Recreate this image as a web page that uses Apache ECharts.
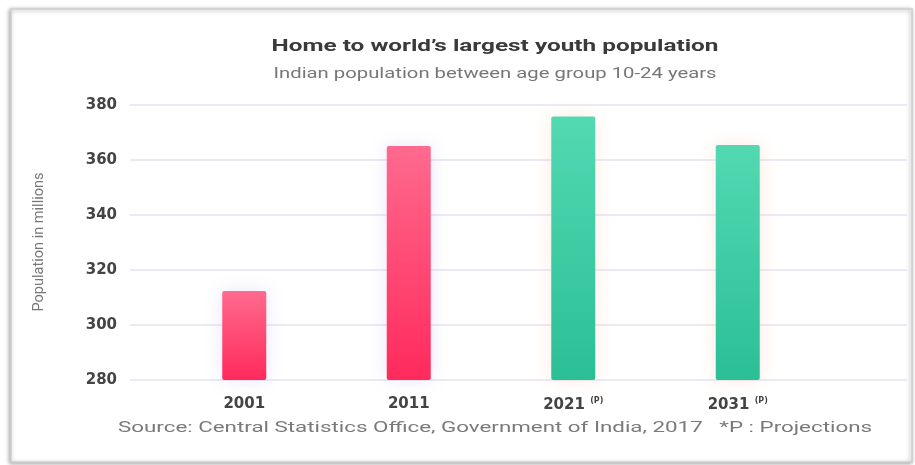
<!DOCTYPE html>
<html>
<head>
<meta charset="utf-8">
<script src="https://cdn.jsdelivr.net/npm/echarts@6/dist/echarts.min.js"></script>
<style>html,body{margin:0;padding:0;background:#fff;}#c{width:915px;height:465px;}</style>
</head>
<body>
<div id="c"></div>
<script>
// ---- data ----
const categories = ['2001', '2011', '2021', '2031'];
const projected = [false, false, true, true];
const population = [312.4, 365.1, 375.8, 365.5];
const yMin = 280, yMax = 380, yStep = 20;
const titleText = 'Home to world\u2019s largest youth population';
const subtitleText = 'Indian population between age group 10-24 years';
const yName = 'Population in millions';
const sourceText = 'Source: Central Statistics Office, Government of India, 2017   *P : Projections';
const projMark = '(P)';

// ---- helpers ----
const mctx = document.createElement('canvas').getContext('2d');
function fitScale(text, font, target) {
  mctx.font = font;
  const w = mctx.measureText(text).width;
  return w > 0 ? target / w : 1;
}
function txt(text, x, y, font, fill, target, extra) {
  return Object.assign({
    type: 'text', x: x, y: y, z: 10,
    scaleX: fitScale(text, font, target),
    style: { text: text, font: font, fill: fill, align: 'center', verticalAlign: 'middle' }
  }, extra || {});
}

const pinkGrad = new echarts.graphic.LinearGradient(0, 0, 0, 1, [
  { offset: 0, color: '#ff6a8e' }, { offset: 1, color: '#ff2a5c' }]);
const greenGrad = new echarts.graphic.LinearGradient(0, 0, 0, 1, [
  { offset: 0, color: '#52d9b2' }, { offset: 1, color: '#2bbf95' }]);

const barData = population.map((v, i) => ({
  value: v,
  itemStyle: projected[i]
    ? { color: greenGrad, shadowBlur: 18, shadowColor: 'rgba(255,160,110,0.22)', borderRadius: 2 }
    : { color: pinkGrad, shadowBlur: 18, shadowColor: 'rgba(140,110,220,0.18)', borderRadius: 2 }
}));

const labelFont = 'DejaVu Sans';
const chart = echarts.init(document.getElementById('c'), null, { renderer: 'canvas' });
chart.setOption({
  animation: false,
  backgroundColor: '#fff',
  grid: [
    { left: 130, right: 8, top: 105, bottom: 85 },
    { left: 162, right: 95, top: 105, bottom: 85 }
  ],
  xAxis: [
    { gridIndex: 0, type: 'category', data: categories, show: false },
    {
      gridIndex: 1, type: 'category', data: categories,
      axisLine: { show: false }, axisTick: { show: false },
      axisLabel: {
        margin: 17, color: '#444', fontFamily: labelFont, fontWeight: 'bold', fontSize: 15,
        formatter: function (v) {
          const i = categories.indexOf(v);
          return projected[i] ? v + ' {p|' + projMark + '}' : v;
        },
        rich: { p: { fontSize: 8, color: '#444', fontFamily: labelFont, fontWeight: 'bold', padding: [0, 0, 8, 0] } }
      }
    }
  ],
  yAxis: [
    {
      gridIndex: 0, type: 'value', min: yMin, max: yMax, interval: yStep,
      axisLine: { show: false }, axisTick: { show: false },
      axisLabel: { margin: 13, color: '#444', fontFamily: labelFont, fontWeight: 'bold', fontSize: 15 },
      splitLine: { lineStyle: { color: '#ece9f6', width: 2 } }
    },
    { gridIndex: 1, type: 'value', min: yMin, max: yMax, interval: yStep, show: false, splitLine: { show: false } }
  ],
  series: [{
    type: 'bar', xAxisIndex: 1, yAxisIndex: 1,
    barWidth: 44, data: barData
  }],
  graphic: [
    {
      type: 'rect', z: -10,
      shape: { x: 11, y: 9, width: 901, height: 453 },
      style: { fill: '#fff', stroke: '#cfcfcf', lineWidth: 1.5, shadowBlur: 4, shadowOffsetX: -1, shadowOffsetY: 1, shadowColor: 'rgba(0,0,0,0.35)' }
    },
    txt(titleText, 495, 47, 'bold 17px Roboto', '#3a3a3a', 447),
    txt(subtitleText, 495, 74, '14px Roboto', '#777', 443),
    txt(sourceText, 495, 428, '15px Roboto', '#7a7a7a', 754),
    txt(yName, 39, 242, '15px Roboto', '#777', 139, { rotation: Math.PI / 2 })
  ]
});
</script>
</body>
</html>
